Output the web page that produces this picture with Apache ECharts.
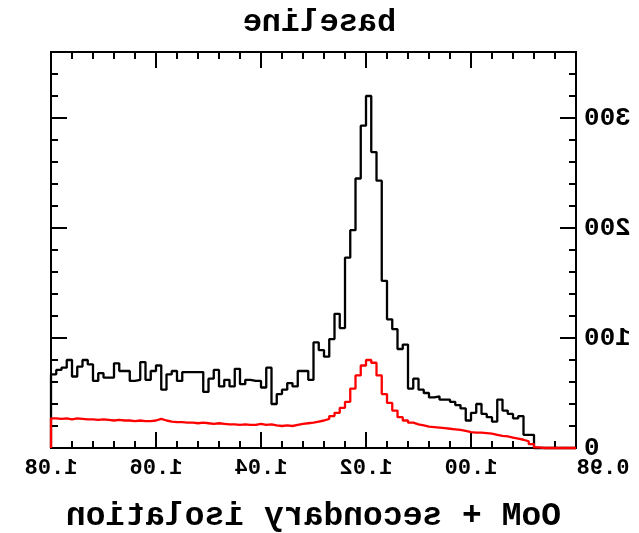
<!DOCTYPE html>
<html>
<head>
<meta charset="utf-8">
<script src="https://cdn.jsdelivr.net/npm/echarts@6/dist/echarts.min.js"></script>
<style>
  html, body { margin: 0; padding: 0; background: #fff; }
  /* the reference picture is a mirror image: draw normally, then flip */
  #chart { width: 639px; height: 533px; transform: scaleX(-1); }
</style>
</head>
<body>
<div id="chart"></div>
<script>
// Histogram bins of width 0.001; bin k spans [1.080-0.001(k+1), 1.080-0.001k]
const binTop = 1.08;
const binWidth = 0.001;
const titleText = 'baseline';
const xTitle = 'OoM + secondary isolation';
const xTicks = [0.98, 1.00, 1.02, 1.04, 1.06, 1.08];
const yTicks = [0, 100, 200, 300];

const blackCounts = [
  67, 71, 73, 80, 65, 74, 80, 76, 61, 68,
  64, 64, 77, 70, 70, 61, 62, 78, 62, 70,
  75, 53, 67, 70, 61, 69, 69, 69, 69, 51,
  63, 71, 56, 62, 56, 72, 58, 62, 61, 61,
  55, 73, 40, 49, 53, 59, 56, 70, 70, 62,
  96, 89, 83, 99, 122, 109, 173, 198, 245, 293,
  320, 269, 243, 152, 117, 108, 90, 94, 54, 63,
  53, 50, 46, 47, 44, 44, 42, 39, 36, 25,
  32, 40, 31, 28, 24, 44, 34, 31, 27, 29,
  12, 12, 0, 0, 0, 0, 0, 0, 0, 0
];

const redCounts = [
  27, 26.5, 27, 26, 27, 26.5, 26, 26, 25.5, 26,
  25.5, 25, 25.5, 25, 25, 24.5, 25, 24.5, 24.5, 25,
  26.5, 25, 24, 23.5, 23.5, 23, 23, 22.5, 23, 22.5,
  22, 22.5, 22, 21.5, 21.5, 21, 21.5, 21, 21, 22,
  21, 21.5, 20.5, 20, 20.5, 20, 21, 22, 22.5, 23,
  24, 25, 26.5, 29, 32, 36.5, 42, 54, 66, 75,
  80, 77.5, 66, 49, 41, 34, 28, 25, 23, 21.5,
  20.5, 19.5, 19, 18.5, 18, 17.5, 17, 16.5, 15.5, 14.5,
  14, 14, 13.5, 13, 12, 11, 10.5, 9.5, 8.5, 7.5,
  6, 3.5, 0.5, 0, 0, 0, 0, 0, 0, 0
];

function steps(counts) {
  const pts = [[binTop, 0]];
  counts.forEach((v, k) => {
    const hi = +(binTop - k * binWidth).toFixed(4);
    const lo = +(binTop - (k + 1) * binWidth).toFixed(4);
    pts.push([hi, v], [lo, v]);
  });
  return pts;
}

const FONT = 'Liberation Mono';
const axisCol = '#000';

function xAx(pos, labels) {
  return {
    type: 'value', position: pos, min: 0.98, max: 1.08, interval: 0.02,
    axisLine: { show: true, onZero: false, lineStyle: { color: axisCol, width: 2 } },
    axisTick: { show: true, inside: true, length: 16, lineStyle: { color: axisCol, width: 2 } },
    minorTick: { show: true, splitNumber: 5, length: 7, lineStyle: { color: axisCol, width: 2 } },
    splitLine: { show: false },
    axisLabel: labels ? {
      show: true, margin: 9, color: '#000', fontFamily: FONT, fontWeight: 'bold', fontSize: 22,
      formatter: v => (Math.abs(v - xTicks[0]) < 1e-6 ? '{first|' + v.toFixed(2) + '}' : v.toFixed(2)),
      rich: {
        first: { fontFamily: FONT, fontWeight: 'bold', fontSize: 22, color: '#000', padding: [0, 54, 0, 0] }
      }
    } : { show: false },
    name: labels ? xTitle : '',
    nameLocation: 'middle', nameGap: 52,
    nameTextStyle: { color: '#000', fontFamily: FONT, fontWeight: 'bold', fontSize: 33 }
  };
}
function yAx(pos, interval, len, labels) {
  return {
    type: 'value', position: pos, min: 0, max: 360, interval: interval,
    axisLine: { show: true, onZero: false, lineStyle: { color: axisCol, width: 2 } },
    axisTick: { show: true, inside: true, length: len, lineStyle: { color: axisCol, width: 2 } },
    splitLine: { show: false },
    axisLabel: labels ? {
      show: true, margin: 8, color: '#000', fontFamily: FONT, fontWeight: 'bold', fontSize: 26,
      showMaxLabel: false,
      formatter: v => (yTicks.indexOf(v) >= 0 ? String(v) : '')
    } : { show: false }
  };
}

const chart = echarts.init(document.getElementById('chart'), null, { renderer: 'canvas' });
chart.setOption({
  animation: false,
  backgroundColor: '#fff',
  title: {
    text: titleText, left: 'center', top: 2,
    textStyle: { color: '#000', fontFamily: FONT, fontWeight: 'bold', fontSize: 32 }
  },
  grid: { left: 63, right: 51, top: 52, bottom: 85, containLabel: false, outerBoundsMode: 'none' },
  xAxis: [xAx('bottom', true), xAx('top', false)],
  yAxis: [
    yAx('left', 100, 16, true),
    yAx('left', 20, 7, false),
    yAx('right', 100, 16, false),
    yAx('right', 20, 7, false)
  ],
  series: [
    {
      type: 'line', data: steps(blackCounts), symbol: 'none', clip: false, z: 3,
      lineStyle: { color: '#000', width: 2.3 }
    },
    {
      type: 'line', data: steps(redCounts), symbol: 'none', clip: false, z: 4,
      lineStyle: { color: '#ff0000', width: 2.3 }
    }
  ]
});
</script>
</body>
</html>
